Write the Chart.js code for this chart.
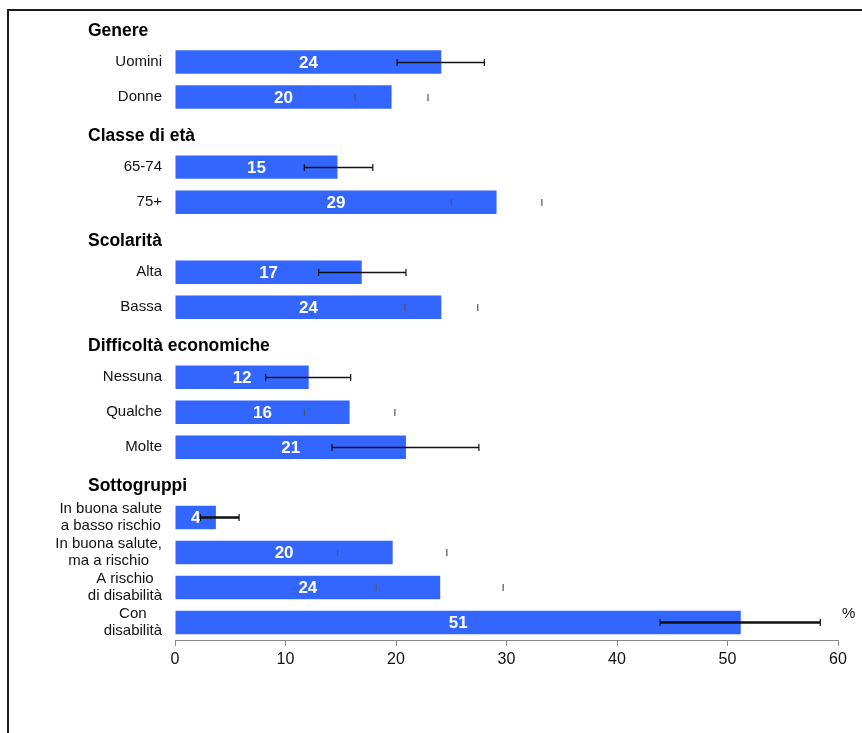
<!DOCTYPE html>
<html lang="it">
<head>
<meta charset="utf-8">
<title>Prevalenza per sottogruppi</title>
<script src="https://cdn.jsdelivr.net/npm/chart.js@4.4.1/dist/chart.umd.min.js"></script>
<style>
    html,
    body {
        margin: 0;
        padding: 0;
        background: #ffffff;
        overflow: hidden;
    }

    #cornice {
        position: absolute;
        left: 7px;
        top: 9px;
        width: 1000px;
        height: 1000px;
        border: 2px solid #1c1c1c;
        pointer-events: none;
    }

    #grafico {
        position: absolute;
        left: 0;
        top: 0;
    }
</style>
</head>
<body>

<canvas id="grafico" width="862" height="733"></canvas>
<div id="cornice"></div>

<script>

// dati (i titoli di gruppo non hanno barra)

const categorie = [
    "Genere",
    "Uomini",
    "Donne",
    "Classe di età",
    "65-74",
    "75+",
    "Scolarità",
    "Alta",
    "Bassa",
    "Difficoltà economiche",
    "Nessuna",
    "Qualche",
    "Molte",
    "Sottogruppi",
    ["In buona salute", "a basso rischio"],
    ["In buona salute,", "ma a rischio"],
    ["A rischio", "di disabilità"],
    ["Con", "disabilità"]
];

const titoliGruppo = [
    "Genere",
    "Classe di età",
    "Scolarità",
    "Difficoltà economiche",
    "Sottogruppi"
];

const valori = [
    null, 24.1, 19.6,
    null, 14.7, 29.1,
    null, 16.9, 24.1,
    null, 12.1, 15.8, 20.9,
    null, 3.7, 19.7, 24.0, 51.2
];

const limiteInferiore = [
    null, 20.1, 16.3,
    null, 11.7, 25.0,
    null, 13.0, 20.8,
    null, 8.2, 11.7, 14.2,
    null, 2.3, 14.7, 18.2, 43.9
];

const limiteSuperiore = [
    null, 28.0, 22.9,
    null, 17.9, 33.2,
    null, 20.9, 27.4,
    null, 15.9, 19.9, 27.5,
    null, 5.8, 24.6, 29.7, 58.4
];

const tickAsseX = [0, 10, 20, 30, 40, 50, 60];

const unitaMisura = "%";

// stile

const coloreBarre = "#3366ff";

const fontBase = "'Liberation Sans', Arial, sans-serif";

// nel riferimento, in alcune righe la linea dell'intervallo non si vede
const lineaVisibile = [
    false, true, false,
    false, true, false,
    false, true, false,
    false, true, false, true,
    false, true, false, false, true
];

const spessoreLinea = [
    1, 1, 1,
    1, 1, 1,
    1, 1, 1,
    1, 1, 1, 1,
    1, 2, 1, 1, 2
];

function isTitolo(indice) {

    const etichetta =
        categorie[indice];

    return (
        typeof etichetta === "string" &&
        titoliGruppo.includes(etichetta)
    );
}

const pluginEtichette = {

    id: "etichette",

    afterDatasetsDraw(chart) {

        const ctx = chart.ctx;

        const scalaX = chart.scales.x;

        const scalaY = chart.scales.y;

        const barre =
            chart.getDatasetMeta(0).data;

        ctx.save();

        // etichette asse y
        categorie.forEach((etichetta, i) => {

            const y =
                scalaY.getPixelForValue(i);

            if (isTitolo(i)) {

                ctx.font = "bold 17.5px " + fontBase;

                ctx.fillStyle = "#000000";

                ctx.textAlign = "left";

                ctx.textBaseline = "middle";

                ctx.fillText(etichetta, 88, y + 4);

                return;
            }

            const righe =
                Array.isArray(etichetta)
                    ? etichetta
                    : [etichetta];

            ctx.font = "15px " + fontBase;

            ctx.fillStyle = "#111111";

            ctx.textBaseline = "middle";

            ctx.textAlign = "center";

            const larghezza =
                Math.max(
                    ...righe.map(
                        r => ctx.measureText(r).width
                    )
                );

            const centro =
                scalaX.left - 13 - larghezza / 2;

            const interlinea = 17;

            righe.forEach((riga, k) => {

                const dy =
                    (k - (righe.length - 1) / 2) *
                    interlinea;

                ctx.fillText(riga, centro, y + dy);
            });
        });

        // valori dentro le barre
        ctx.font = "bold 17px " + fontBase;

        ctx.fillStyle = "#ffffff";

        ctx.textAlign = "center";

        ctx.textBaseline = "middle";

        barre.forEach((barra, i) => {

            if (valori[i] === null)
                return;

            const x =
                (barra.x + barra.base) / 2;

            ctx.fillText(
                String(Math.round(valori[i])),
                x,
                barra.y + 1
            );
        });

        // intervalli di confidenza
        barre.forEach((barra, i) => {

            if (limiteInferiore[i] === null)
                return;

            const x1 =
                scalaX.getPixelForValue(
                    limiteInferiore[i]
                );

            const x2 =
                scalaX.getPixelForValue(
                    limiteSuperiore[i]
                );

            const y =
                Math.round(barra.y) + 0.5;

            const colore =
                lineaVisibile[i]
                    ? "#111111"
                    : "#555555";

            ctx.strokeStyle = colore;

            if (lineaVisibile[i]) {

                ctx.lineWidth = spessoreLinea[i] + 0.5;

                ctx.beginPath();

                ctx.moveTo(x1, y);

                ctx.lineTo(x2, y);

                ctx.stroke();
            }

            ctx.lineWidth = 1.2;

            [x1, x2].forEach(x => {

                ctx.beginPath();

                ctx.moveTo(x, y - 3.5);

                ctx.lineTo(x, y + 3.5);

                ctx.stroke();
            });
        });

        // unità di misura
        ctx.font = "15px " + fontBase;

        ctx.fillStyle = "#111111";

        ctx.textAlign = "left";

        ctx.textBaseline = "middle";

        ctx.fillText(
            unitaMisura,
            scalaX.right + 4,
            scalaY.getPixelForValue(categorie.length - 1) - 9
        );

        ctx.restore();
    }
};

new Chart(
    document.getElementById("grafico"),
    {
        type: "bar",

        data: {

            labels: categorie,

            datasets: [
                {
                    data: valori,

                    backgroundColor: coloreBarre,

                    borderWidth: 0,

                    barPercentage: 0.67,

                    categoryPercentage: 1
                }
            ]
        },

        options: {

            indexAxis: "y",

            responsive: false,

            animation: false,

            devicePixelRatio: 1,

            layout: {

                padding: {
                    left: 0,
                    right: 24,
                    top: 9.5,
                    bottom: 53
                }
            },

            plugins: {

                legend: {
                    display: false
                },

                tooltip: {
                    enabled: false
                }
            },

            scales: {

                x: {

                    min: 0,

                    max: 60,

                    afterBuildTicks: scala => {

                        scala.ticks =
                            tickAsseX.map(
                                v => ({ value: v })
                            );
                    },

                    afterFit: scala => {

                        scala.height = 40;
                    },

                    border: {
                        color: "#888888",
                        width: 1
                    },

                    grid: {

                        drawOnChartArea: false,

                        tickLength: 6,

                        tickColor: "#888888"
                    },

                    ticks: {

                        color: "#111111",

                        padding: 4,

                        font: {
                            family: fontBase,
                            size: 16
                        }
                    }
                },

                y: {

                    afterFit: scala => {

                        scala.width = 175;
                    },

                    border: {
                        display: false
                    },

                    grid: {
                        display: false
                    },

                    ticks: {
                        display: false
                    }
                }
            }
        },

        plugins: [pluginEtichette]
    }
);

</script>
</body>
</html>
